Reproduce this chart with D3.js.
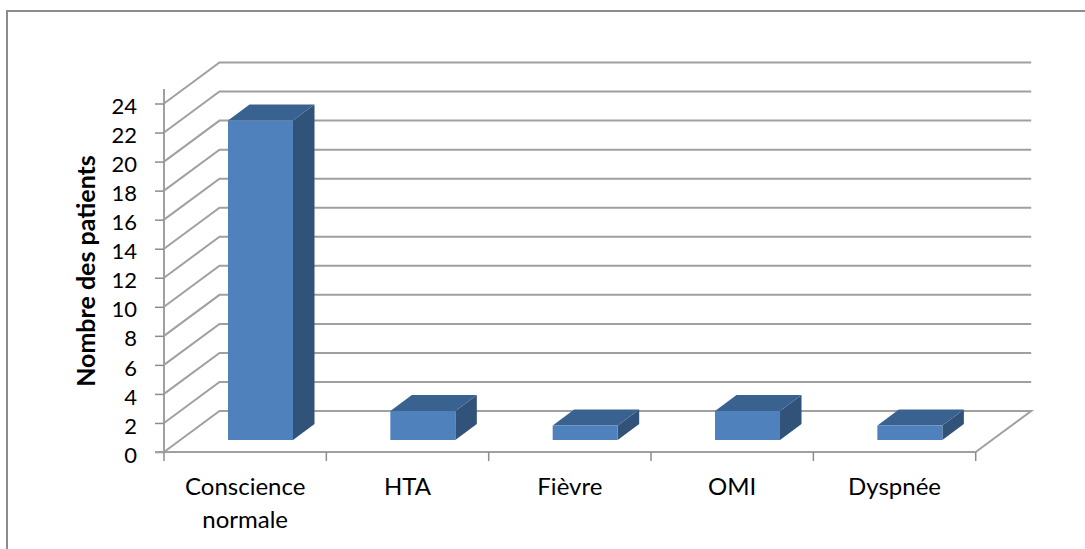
<!DOCTYPE html>
<html>
<head>
<meta charset="utf-8">
<script src="https://cdn.jsdelivr.net/npm/d3@7/dist/d3.min.js"></script>
<style>
html, body { margin: 0; padding: 0; background: #fff; }
svg { display: block; }
text { font-family: Lato, "Open Sans", sans-serif; fill: #000; }
</style>
</head>
<body>
<svg id="chart" width="1085" height="549"></svg>
<script>
const categories = ["Conscience normale", "HTA", "Fièvre", "OMI", "Dyspnée"];
const patients = [22, 2, 1, 2, 1];
const yTicks = [0, 2, 4, 6, 8, 10, 12, 14, 16, 18, 20, 22, 24];
const labelLines = [["Conscience", "normale"], ["HTA"], ["Fièvre"], ["OMI"], ["Dyspnée"]];

const svg = d3.select("#chart");

// Oblique projection: depth of the box, and the bar inset within it.
const depth = { x: 55.5, y: 41 };
const barInset = { x: 16, y: 12 };
const barDepth = { x: 21.5, y: 16 };

const x = d3.scaleBand().domain(categories).range([164, 975.7]).paddingInner(0).paddingOuter(0);
const y = d3.scaleLinear().domain([0, 24]).range([452, 103.5]);
const barWidth = 65;

// Frame: only the top and left edges are drawn
svg.append("path")
  .attr("d", "M7,549V11H1085")
  .attr("fill", "none").attr("stroke", "#8c8c8c").attr("stroke-width", 2);

const gridStroke = "#a0a0a0";
const grid = svg.append("g").attr("fill", "none").attr("stroke", gridStroke).attr("stroke-width", 2);

// Side wall and back wall gridlines (the lowest one bounds the floor).
grid.selectAll("path").data(yTicks).join("path")
  .attr("d", d => {
    const p = d3.path();
    p.moveTo(x.range()[0], y(d));
    p.lineTo(x.range()[0] + depth.x, y(d) - depth.y);
    p.lineTo(x.range()[1] + depth.x, y(d) - depth.y);
    if (d === 0) p.lineTo(x.range()[1], y(d));
    return p.toString();
  });

// Value axis with outward ticks
const axisColor = "#a0a0a0";
const yAxis = d3.axisLeft(y).tickValues(yTicks).tickSize(9).tickPadding(18);
const gy = svg.append("g").attr("transform", "translate(164,0)").call(yAxis);
gy.selectAll("path.domain").attr("stroke", axisColor).attr("stroke-width", 2).attr("d", `M0,89V${y(0)}`);
gy.selectAll("line").attr("stroke", "#8c8c8c").attr("stroke-width", 1.5);
gy.selectAll("text").style("font-size", "22px").attr("dy", "0.46em");

// Category axis
const edges = categories.map(c => x(c)).concat(x.range()[1]);
const gx = svg.append("g");
gx.append("line")
  .attr("x1", x.range()[0] - 9).attr("x2", x.range()[1])
  .attr("y1", y(0)).attr("y2", y(0))
  .attr("stroke", axisColor).attr("stroke-width", 2);
gx.selectAll("line.tick").data(edges).join("line")
  .attr("class", "tick")
  .attr("x1", d => d).attr("x2", d => d)
  .attr("y1", y(0)).attr("y2", y(0) + 9)
  .attr("stroke", "#8c8c8c").attr("stroke-width", 1.5);

const labels = svg.append("g").selectAll("text").data(categories).join("text")
  .attr("text-anchor", "middle")
  .style("font-size", "24px")
  .attr("transform", d => `translate(${x(d) + x.bandwidth() / 2},0)`);
labels.each(function (d, i) {
  d3.select(this).selectAll("tspan").data(labelLines[i]).join("tspan")
    .attr("x", 0)
    .attr("y", (l, j) => 495 + j * 33)
    .text(l => l);
});

// 3D bars: side, top, then front face
const bars = svg.append("g").selectAll("g").data(categories).join("g");
const barLeft = c => x(c) + 48 + barInset.x;
const base = y(0) - barInset.y;
const frontTop = i => base - (y(0) - y(patients[i]));

bars.append("path").attr("fill", "#325379")
  .attr("d", (c, i) => {
    const l = barLeft(c) + barWidth;
    return `M${l},${base}L${l + barDepth.x},${base - barDepth.y}L${l + barDepth.x},${frontTop(i) - barDepth.y}L${l},${frontTop(i)}Z`;
  });
bars.append("path").attr("fill", "#3a6291")
  .attr("d", (c, i) => {
    const l = barLeft(c), t = frontTop(i);
    return `M${l},${t}L${l + barDepth.x},${t - barDepth.y}L${l + barWidth + barDepth.x},${t - barDepth.y}L${l + barWidth},${t}Z`;
  });
bars.append("rect").attr("fill", "#4f81bd")
  .attr("x", c => barLeft(c)).attr("width", barWidth)
  .attr("y", (c, i) => frontTop(i))
  .attr("height", (c, i) => base - frontTop(i));

// Axis title
svg.append("text")
  .attr("transform", "translate(95,271) rotate(-90)")
  .attr("text-anchor", "middle")
  .style("font-size", "25px").style("font-weight", "700")
  .text("Nombre des patients");
</script>
</body>
</html>
